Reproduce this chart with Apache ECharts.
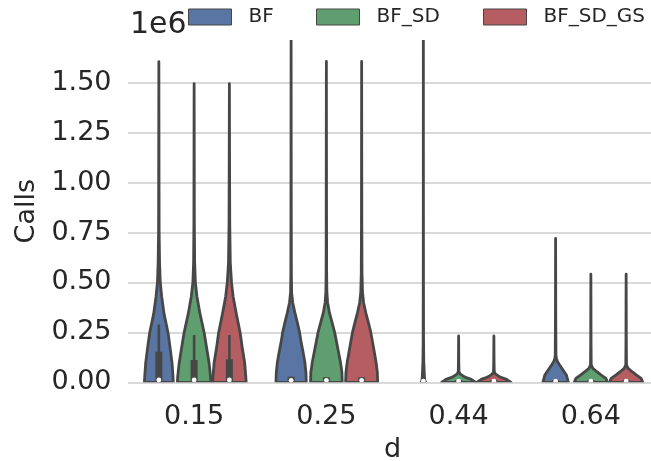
<!DOCTYPE html>
<html>
<head>
<meta charset="utf-8">
<script src="https://cdn.jsdelivr.net/npm/echarts@6/dist/echarts.min.js"></script>
<style>html,body{margin:0;padding:0;background:#fff;}#chart{width:651px;height:461px;}</style>
</head>
<body>
<div id="chart"></div>
<script>
// x categories (d) and hue groups
const categories = ['0.15', '0.25', '0.44', '0.64'];
const seriesNames = ['BF', 'BF_SD', 'BF_SD_GS'];
const seriesColors = ['#5875A4', '#5F9E6E', '#B55D60'];
const yTicks = [0, 0.25, 0.5, 0.75, 1.0, 1.25, 1.5];   // x 1e6
const legendLeft = [188, 316, 483];

// violin outlines, per category: [Calls (x1e6), half-width relative to half a violin slot]
const violinBF = [
  [[0,0.82],[0.03,0.80],[0.095,0.75],[0.178,0.63],[0.248,0.52],[0.345,0.29],[0.43,0.16],[0.5,0.08],[0.6,0.04],[0.76,0.015],[1.0,0.01],[1.3,0.005],[1.606,0]],
  [[0,0.86],[0.05,0.84],[0.1,0.78],[0.15,0.68],[0.2,0.57],[0.25,0.48],[0.3,0.35],[0.35,0.21],[0.4,0.09],[0.45,0.03],[0.55,0.015],[0.8,0.01],[1.2,0.005],[1.75,0]],
  [[0,0.09],[0.03,0.06],[0.1,0.025],[0.2,0.012],[0.5,0.006],[1.0,0.003],[1.75,0]],
  [[0,0.72],[0.037,0.61],[0.062,0.42],[0.087,0.23],[0.103,0.11],[0.12,0.04],[0.14,0.02],[0.3,0.01],[0.5,0.005],[0.721,0]]
];
const violinBF_SD = [
  [[0,0.95],[0.03,0.93],[0.095,0.85],[0.178,0.70],[0.248,0.57],[0.345,0.33],[0.43,0.16],[0.5,0.07],[0.6,0.03],[0.8,0.012],[1.1,0.008],[1.495,0]],
  [[0,0.90],[0.05,0.88],[0.1,0.80],[0.15,0.69],[0.2,0.58],[0.25,0.47],[0.3,0.32],[0.35,0.17],[0.4,0.07],[0.45,0.03],[0.55,0.015],[0.8,0.01],[1.2,0.005],[1.607,0]],
  [[0,0.97],[0.015,0.72],[0.023,0.44],[0.032,0.25],[0.042,0.08],[0.055,0.02],[0.1,0.01],[0.232,0]],
  [[0,0.94],[0.02,0.85],[0.037,0.57],[0.053,0.34],[0.07,0.11],[0.087,0.02],[0.2,0.01],[0.4,0.005],[0.542,0]]
];
const violinBF_SD_GS = [
  [[0,0.95],[0.03,0.93],[0.095,0.87],[0.178,0.72],[0.248,0.61],[0.345,0.39],[0.43,0.21],[0.5,0.12],[0.6,0.05],[0.8,0.02],[1.1,0.01],[1.495,0]],
  [[0,0.91],[0.05,0.89],[0.1,0.82],[0.15,0.72],[0.2,0.62],[0.25,0.52],[0.3,0.38],[0.35,0.23],[0.4,0.11],[0.45,0.05],[0.55,0.02],[0.8,0.01],[1.2,0.005],[1.607,0]],
  [[0,0.97],[0.015,0.72],[0.023,0.44],[0.032,0.25],[0.042,0.08],[0.055,0.02],[0.1,0.01],[0.232,0]],
  [[0,0.94],[0.02,0.85],[0.037,0.57],[0.053,0.34],[0.07,0.11],[0.087,0.02],[0.2,0.01],[0.4,0.005],[0.542,0]]
];

// inner box stats per category: [whisker low, q1, median, q3, whisker high] (x1e6)
const boxBF = [[0,0.004,0.012,0.153,0.29],[0,0.003,0.01,0.028,0.028],[0,0.001,0.006,0.008,0.008],[0,0.001,0.006,0.012,0.012]];
const boxBF_SD = [[0,0.004,0.012,0.112,0.237],[0,0.003,0.01,0.025,0.025],[0,0.001,0.006,0.012,0.012],[0,0.001,0.006,0.012,0.012]];
const boxBF_SD_GS = [[0,0.004,0.012,0.115,0.237],[0,0.003,0.01,0.025,0.025],[0,0.001,0.006,0.012,0.012],[0,0.001,0.006,0.012,0.012]];

const profiles = [violinBF, violinBF_SD, violinBF_SD_GS];
const boxes = [boxBF, boxBF_SD, boxBF_SD_GS];

const FONT = 'DejaVu Sans';
const TXT = '#262626';
const EDGE = '#474747';
const SCALE = 1e6;

function makeRender(s) {
  return function (params, api) {
    const c = api.value(0);
    const base = api.coord([c, 0]);
    const band = api.size([1, 0])[0];
    const slot = band * 0.8 / 3;
    const cx = base[0] + (s - 1) * slot;
    const half = slot / 2;
    const Y = v => api.coord([c, v * SCALE])[1];
    const prof = profiles[s][params.dataIndex];
    const left = [], right = [];
    prof.forEach(p => {
      const y = Y(p[0]);
      left.push([cx - p[1] * half, y]);
      right.push([cx + p[1] * half, y]);
    });
    const pts = left.concat(right.reverse());
    const b = boxes[s][params.dataIndex];
    return {
      type: 'group',
      children: [
        { type: 'polygon', shape: { points: pts },
          style: { fill: seriesColors[s], stroke: EDGE, lineWidth: 2.8, lineJoin: 'round' } },
        { type: 'line', shape: { x1: cx, y1: Y(b[0]), x2: cx, y2: Y(b[4]) },
          style: { stroke: EDGE, lineWidth: 2.6 } },
        { type: 'line', shape: { x1: cx, y1: Y(b[1]), x2: cx, y2: Y(b[3]) },
          style: { stroke: EDGE, lineWidth: 7, lineCap: 'butt' } },
        { type: 'circle', shape: { cx: cx, cy: Y(b[2]), r: 2.4 }, style: { fill: '#ffffff' } }
      ]
    };
  };
}

const chart = echarts.init(document.getElementById('chart'), null, { renderer: 'canvas' });
const gridColors = yTicks.map(() => '#cccccc').concat(['rgba(0,0,0,0)']);

chart.setOption({
  animation: false,
  backgroundColor: '#ffffff',
  textStyle: { fontFamily: FONT },
  grid: { left: 128, right: -6, top: 40, bottom: 78.7, containLabel: false, outerBoundsMode: 'none' },
  legend: seriesNames.map((name, s) => ({
    data: [name],
    left: legendLeft[s],
    top: 7,
    padding: 0,
    icon: 'rect',
    itemWidth: 43,
    itemHeight: 16,
    itemStyle: { borderColor: EDGE, borderWidth: 1 },
    textStyle: { fontSize: 20, color: TXT, fontFamily: FONT, padding: [0, 0, 0, 12] }
  })),
  xAxis: {
    type: 'category',
    data: categories,
    axisLine: { show: false },
    axisTick: { show: false },
    axisLabel: { fontSize: 27, color: TXT, fontFamily: FONT, margin: 21 },
    splitLine: { show: false },
    name: 'd',
    nameLocation: 'middle',
    nameGap: 54,
    nameTextStyle: { fontSize: 27, color: TXT, fontFamily: FONT }
  },
  yAxis: {
    type: 'value',
    min: 0,
    max: 1.714 * SCALE,
    interval: 0.25 * SCALE,
    axisLine: { show: false },
    axisTick: { show: false },
    axisLabel: {
      fontSize: 27, color: TXT, fontFamily: FONT, margin: 16.5, showMaxLabel: false,
      padding: [5, 0, 0, 0],
      formatter: v => (yTicks.some(t => Math.abs(t * SCALE - v) < 1) ? (v / SCALE).toFixed(2) : '')
    },
    splitLine: { show: true, lineStyle: { color: gridColors, width: 1.6 } },
    name: 'Calls',
    nameLocation: 'middle',
    nameGap: 88,
    nameTextStyle: { fontSize: 27, color: TXT, fontFamily: FONT }
  },
  graphic: [
    { type: 'text', x: 130, y: 25,
      style: { text: '1e6', fontSize: 30, fill: TXT, fontFamily: FONT, align: 'left', verticalAlign: 'middle' } }
  ],
  series: seriesNames.map((name, s) => ({
    name: name,
    type: 'custom',
    clip: true,
    itemStyle: { color: seriesColors[s] },
    renderItem: makeRender(s),
    encode: { x: 0, y: 1 },
    data: categories.map((_, i) => [i, 0])
  }))
});
</script>
</body>
</html>
